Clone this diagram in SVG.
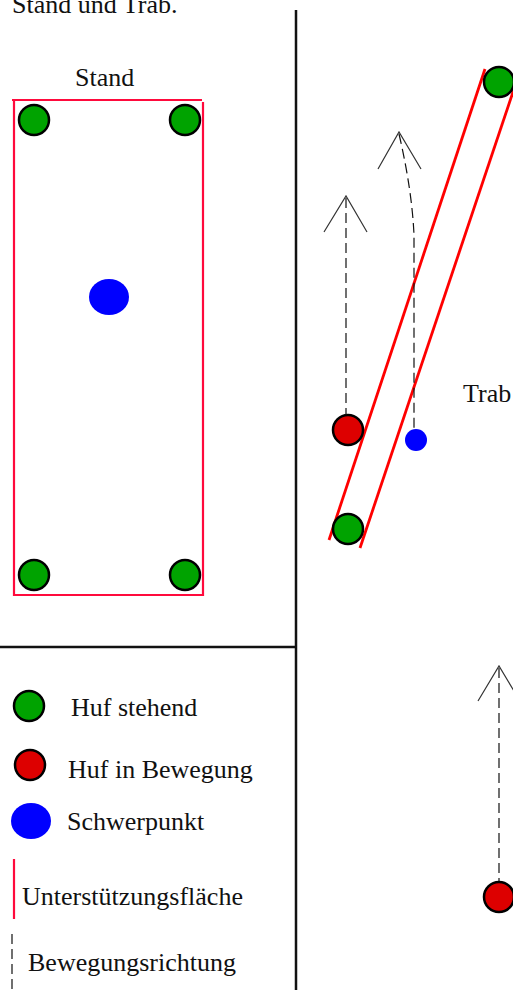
<svg xmlns="http://www.w3.org/2000/svg" width="513" height="990" viewBox="0 0 513 990">
<style>
text{font-family:"Liberation Serif","Times New Roman",serif;font-size:26px;fill:#111}
.gr{fill:#00a300;stroke:#000;stroke-width:2.5}
.rd{fill:#dd0000;stroke:#000;stroke-width:2.5}
.bl{fill:#0000ff}
.dash{stroke:#111;stroke-width:1.2;stroke-dasharray:10,5;fill:none}
.head{stroke:#333;stroke-width:1.2;fill:none}
.sep{stroke:#111;stroke-width:2.5}
</style>
<rect width="513" height="990" fill="#fff"/>
<text x="12" y="13">Stand und Trab.</text>
<g id="separators">
<line class="sep" x1="296" y1="10" x2="296" y2="990"/>
<line class="sep" x1="0" y1="647" x2="296" y2="647"/>
</g>
<g id="stand">
<text x="75" y="86">Stand</text>
<path d="M12 100H202M14 100V595H203V102" fill="none" stroke="#ff0a3c" stroke-width="2.2"/>
<circle class="gr" cx="34" cy="120" r="15"/>
<circle class="gr" cx="185" cy="120" r="15"/>
<circle class="gr" cx="34" cy="575" r="15"/>
<circle class="gr" cx="185" cy="575" r="15"/>
<ellipse class="bl" cx="109" cy="297" rx="20" ry="18"/>
</g>
<g id="trab">
<text x="463" y="402">Trab</text>
<line x1="485" y1="69" x2="329" y2="540" stroke="#f00" stroke-width="2.8"/>
<line x1="517" y1="80" x2="360" y2="548" stroke="#f00" stroke-width="2.8"/>
<circle class="gr" cx="499" cy="82" r="15"/>
<circle class="rd" cx="348" cy="430" r="15"/>
<circle class="gr" cx="348" cy="529" r="15"/>
<circle class="bl" cx="416" cy="440" r="11"/>
</g>
<g id="connectors">
<line class="dash" x1="346" y1="198" x2="346" y2="415"/>
<path class="head" d="M324 232L346 196L367 232"/>
<path class="dash" d="M399 134Q412 190 414 235V430"/>
<path class="head" d="M378 169L399 132L421 169"/>
<line class="dash" x1="499" y1="668" x2="499" y2="882"/>
<path class="head" d="M478 701L499 666L520 701"/>
</g>
<circle id="hoof-bottom" class="rd" cx="499" cy="897" r="15"/>
<g id="legend">
<circle class="gr" cx="29" cy="706" r="15"/>
<text x="71" y="716">Huf stehend</text>
<circle class="rd" cx="30" cy="765" r="15"/>
<text x="68" y="778">Huf in Bewegung</text>
<ellipse class="bl" cx="31" cy="821" rx="20" ry="18"/>
<text x="67" y="830">Schwerpunkt</text>
<line x1="14" y1="859" x2="14" y2="919" stroke="#ff0a3c" stroke-width="2.2"/>
<text x="22" y="905">Unterstützungsfläche</text>
<line class="dash" x1="12" y1="934" x2="12" y2="990"/>
<text x="28" y="971">Bewegungsrichtung</text>
</g>
</svg>
